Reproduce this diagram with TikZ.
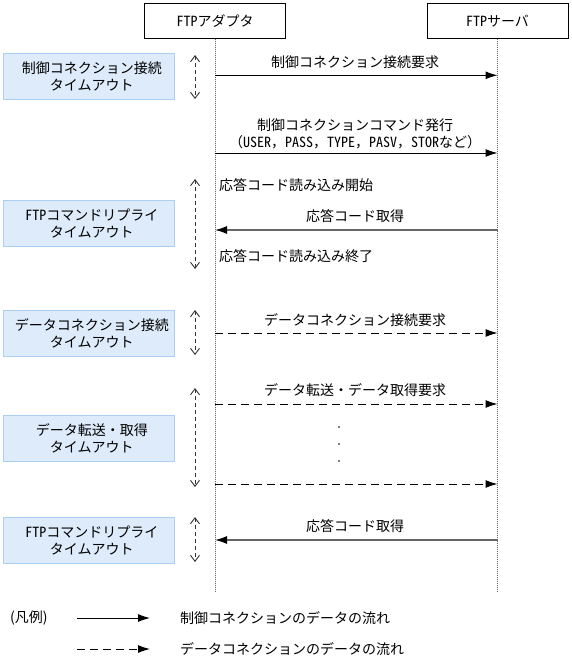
\documentclass[tikz,border=0pt]{standalone}
\usepackage{fontspec}
\setmainfont{Noto Sans CJK JP}
\newfontfamily\hwfont[RawFeature=+hwid]{Noto Sans CJK JP}
\newcommand\hw[1]{{\hwfont #1}}
\usetikzlibrary{arrows.meta}
\definecolor{boxfill}{RGB}{221,235,250}
\definecolor{boxline}{RGB}{170,207,242}
\definecolor{lifegray}{RGB}{100,100,100}
\begin{document}
\begin{tikzpicture}[x=1pt,y=-1pt,
  font=\fontsize{14}{17}\selectfont,
  actor/.style={draw=black, line width=0.8pt, fill=white, minimum width=141pt, minimum height=35pt, inner sep=0pt},
  tobox/.style={draw=boxline, fill=boxfill, line width=0.8pt, minimum width=171pt, minimum height=46pt, inner sep=0pt},
  life/.style={draw=lifegray, line width=1pt, dash pattern=on 1pt off 1pt},
  spanarr/.style={draw=black!80, line width=0.9pt, dash pattern=on 4pt off 3pt, {Straight Barb[length=6pt,width=9pt]}-{Straight Barb[length=6pt,width=9pt]}},
  ctrl/.style={draw=black, line width=1pt, -{Latex[length=12pt,width=8pt]}},
  reply/.style={draw=black!60, line width=1.5pt, -{Latex[length=12pt,width=8pt,fill=black,color=black]}},
  data/.style={draw=black, line width=1pt, dash pattern=on 8pt off 5pt, -{Latex[length=12pt,width=8pt]}},
  lbl/.style={inner sep=0pt, align=center},
  dotn/.style={circle, fill=black, inner sep=0pt, minimum size=1.8pt},
]
\useasboundingbox (0,0) rectangle (572,661);

% actors
\node[actor] (ad) at (215,20.8) {\hw{FTP}アダプタ};
\node[actor] (sv) at (497.5,20.8) {\hw{FTP}サーバ};
\coordinate (adend) at (215,592);
\coordinate (svend) at (497.5,592);
\draw[life] (ad.south) -- (adend);
\draw[life] (sv.south) -- (svend);

% timeout boxes
\node[tobox] (t1) at (88.8,76.2) {};
\node[lbl] (t1t) at ([xshift=3pt]t1.center) {制御コネクション接続\\タイムアウト};
\node[tobox] (t2) at (88.8,223.8) {};
\node[lbl] (t2t) at ([xshift=3pt]t2.center) {\hw{FTP}コマンドリプライ\\タイムアウト};
\node[tobox] (t3) at (88.8,333) {};
\node[lbl] (t3t) at ([xshift=3pt]t3.center) {データコネクション接続\\タイムアウト};
\node[tobox] (t4) at (88.8,438) {};
\node[lbl] (t4t) at ([xshift=3pt]t4.center) {データ転送・取得\\タイムアウト};
\node[tobox] (t5) at (88.8,540) {};
\node[lbl] (t5t) at ([xshift=3pt]t5.center) {\hw{FTP}コマンドリプライ\\タイムアウト};

% span arrows
\coordinate (d1a) at (195,55);  \coordinate (d1b) at (195,99);
\coordinate (d2a) at (195,179); \coordinate (d2b) at (195,269);
\coordinate (d3a) at (195,310); \coordinate (d3b) at (195,355);
\coordinate (d4a) at (195,388); \coordinate (d4b) at (195,487);
\coordinate (d5a) at (195,517); \coordinate (d5b) at (195,562);
\draw[spanarr] (d1a) -- (d1b);
\draw[spanarr] (d2a) -- (d2b);
\draw[spanarr] (d3a) -- (d3b);
\draw[spanarr] (d4a) -- (d4b);
\draw[spanarr] (d5a) -- (d5b);

% messages
\coordinate (a1) at (215,75.3);  \coordinate (s1) at (497.5,75.3);
\coordinate (a2) at (215,153);   \coordinate (s2) at (497.5,153);
\coordinate (a3) at (215,230);   \coordinate (s3) at (497.5,230);
\coordinate (a4) at (215,333);   \coordinate (s4) at (497.5,333);
\coordinate (a5) at (215,404);   \coordinate (s5) at (497.5,404);
\coordinate (a6) at (215,484);   \coordinate (s6) at (497.5,484);
\coordinate (a7) at (215,540);   \coordinate (s7) at (497.5,540);

\draw[ctrl] (a1) -- (s1);
\node[lbl] (m1) at (355,62) {制御コネクション接続要求};
\draw[ctrl] (a2) -- (s2);
\node[lbl] (m2) at (355,125) {制御コネクションコマンド発行};
\node[lbl] (m2b) at (355,142) {（\hw{USER}，\hw{PASS}，\hw{TYPE}，\hw{PASV}，\hw{STOR}など）};
\node[lbl, anchor=west] (r1) at (219,185) {応答コード読み込み開始};
\draw[reply] (s3) -- (a3);
\node[lbl] (m3) at (355,216) {応答コード取得};
\node[lbl, anchor=west] (r2) at (219,256) {応答コード読み込み終了};
\draw[data] (a4) -- (s4);
\node[lbl] (m4) at (355,320) {データコネクション接続要求};
\draw[data] (a5) -- (s5);
\node[lbl] (m5) at (355,390) {データ転送・データ取得要求};
\node[dotn] (dt1) at (339,427) {};
\node[dotn] (dt2) at (339,444) {};
\node[dotn] (dt3) at (339,461) {};
\draw[data] (a6) -- (s6);
\draw[reply] (s7) -- (a7);
\node[lbl] (m7) at (355,526) {応答コード取得};

% legend
\node[lbl, anchor=west] (lg) at (10,618) {(凡例)};
\coordinate (l1a) at (77,618); \coordinate (l1b) at (150,618);
\coordinate (l2a) at (77,649); \coordinate (l2b) at (150,649);
\draw[ctrl] (l1a) -- (l1b);
\draw[data] (l2a) -- (l2b);
\node[lbl, anchor=west] (lt1) at (180,618) {制御コネクションのデータの流れ};
\node[lbl, anchor=west] (lt2) at (180,649) {データコネクションのデータの流れ};
\end{tikzpicture}
\end{document}
